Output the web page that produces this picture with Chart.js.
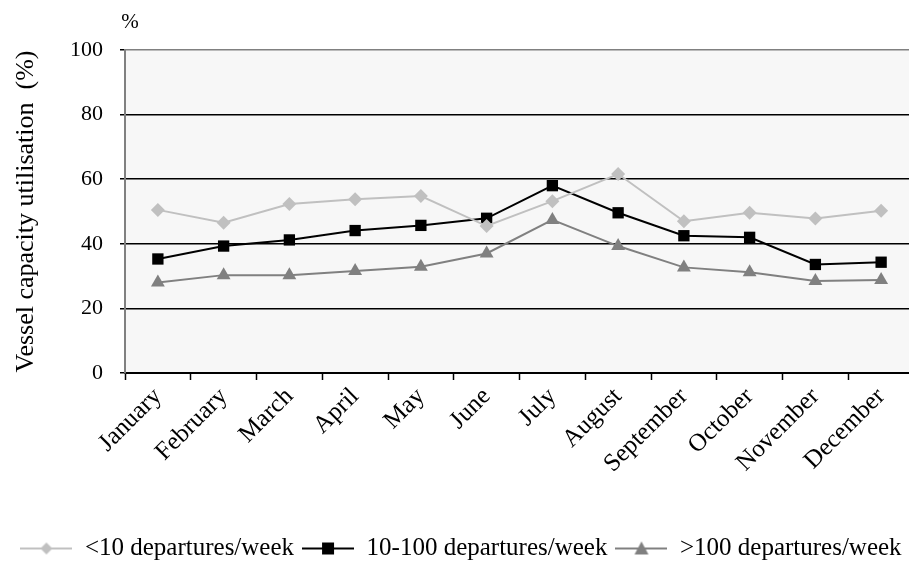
<!DOCTYPE html>
<html lang="en">
<head>
    <meta charset="UTF-8">
    <title>Vessel capacity utilisation</title>
    <script src="https://cdn.jsdelivr.net/npm/chart.js@4.4.1/dist/chart.umd.min.js"></script>
    <style>
        html, body { margin: 0; padding: 0; background: #fff; overflow: hidden; }
        /* plot area runs a little past the right edge, as in the original */
        #clip { width: 909px; height: 565px; overflow: hidden; }
        #wrap { width: 922px; height: 565px; position: relative; }
    </style>
</head>
<body>
    <div id="clip"><div id="wrap"><canvas id="chart"></canvas></div></div>

    <script>
        // months on the x axis
        const months = ['January', 'February', 'March', 'April', 'May', 'June',
                        'July', 'August', 'September', 'October', 'November', 'December'];

        // utilisation (%) by departure frequency
        const lowFreq  = [50.5, 46.5, 52.3, 53.8, 54.8, 45.5, 53.2, 61.6, 47.0, 49.6, 47.8, 50.2];
        const midFreq  = [35.3, 39.3, 41.2, 44.1, 45.7, 47.9, 58.0, 49.6, 42.5, 42.0, 33.6, 34.3];
        const highFreq = [28.0, 30.3, 30.3, 31.6, 32.9, 37.0, 47.4, 39.3, 32.7, 31.2, 28.5, 28.8];

        const seriesNames = ['<10 departures/week', '10-100 departures/week', '>100 departures/week'];
        const yTicks = [0, 20, 40, 60, 80, 100];

        const serif = 'Liberation Serif, Times New Roman, serif';

        // little line+marker picture for the legend
        function legendIcon(color, style) {
            const c = document.createElement('canvas');
            c.width = 52; c.height = 16;
            const g = c.getContext('2d');
            g.strokeStyle = color; g.fillStyle = color; g.lineWidth = 2;
            g.beginPath(); g.moveTo(0, 8); g.lineTo(52, 8); g.stroke();
            g.beginPath();
            if (style === 'rectRot') {
                g.moveTo(26, 2); g.lineTo(32, 8); g.lineTo(26, 14); g.lineTo(20, 8);
            } else if (style === 'rect') {
                g.rect(20, 2, 12, 12);
            } else {
                g.moveTo(26, 1); g.lineTo(33, 14); g.lineTo(19, 14);
            }
            g.closePath(); g.fill();
            return c;
        }

        // light plot background + "%" above the axis
        const plotDecor = {
            id: 'plotDecor',
            beforeDraw(chart) {
                const a = chart.chartArea, ctx = chart.ctx;
                ctx.save();
                ctx.fillStyle = '#f7f7f7';
                ctx.fillRect(a.left, a.top, a.right - a.left, a.bottom - a.top);
                ctx.restore();
            },
            afterDraw(chart) {
                const a = chart.chartArea, ctx = chart.ctx;
                ctx.save();
                ctx.fillStyle = '#000';
                ctx.font = '21px ' + serif;
                ctx.textAlign = 'center';
                ctx.textBaseline = 'middle';
                ctx.fillText('%', a.left + 5, 22);
                ctx.restore();
            }
        };

        const colors = ['#c0c0c0', '#000000', '#808080'];
        const styles = ['rectRot', 'rect', 'triangle'];
        const dataSets = [lowFreq, midFreq, highFreq];

        const ctx = document.getElementById('chart').getContext('2d');
        new Chart(ctx, {
            type: 'line',
            data: {
                labels: months,
                datasets: dataSets.map((d, i) => ({
                    label: seriesNames[i],
                    data: d,
                    borderColor: colors[i],
                    backgroundColor: colors[i],
                    borderWidth: 2,
                    pointStyle: styles[i],
                    pointRadius: i === 0 ? 7 : 8,
                    pointHoverRadius: 8,
                    pointBorderWidth: 0,
                    tension: 0
                }))
            },
            options: {
                responsive: true,
                maintainAspectRatio: false,
                animation: false,
                layout: { padding: { top: 50, right: 0, left: 0, bottom: -6 } },
                scales: {
                    x: {
                        offset: true,
                        grid: {
                            offset: true,
                            drawOnChartArea: false,
                            drawTicks: true,
                            tickLength: 7,
                            tickColor: '#000',
                            tickWidth: 1.5
                        },
                        border: { color: '#000', width: 2 },
                        ticks: {
                            color: '#000',
                            font: { family: serif, size: 25 },
                            maxRotation: 45,
                            minRotation: 45,
                            padding: 2,
                            autoSkip: false
                        },
                        afterFit(scale) { scale.height = 155; }
                    },
                    y: {
                        min: 0,
                        max: 100,
                        afterBuildTicks(scale) { scale.ticks = yTicks.map(v => ({ value: v })); },
                        grid: {
                            color: ctx => ctx.tick.value === 100 ? '#808080' : '#000',
                            lineWidth: 1.5,
                            drawTicks: true,
                            tickLength: 5,
                            tickColor: '#000'
                        },
                        border: { color: '#808080', width: 2 },
                        ticks: {
                            color: '#000',
                            font: { family: serif, size: 22 },
                            padding: 17
                        },
                        title: {
                            display: true,
                            text: 'Vessel capacity utilisation  (%)',
                            color: '#000',
                            font: { family: serif, size: 26 },
                            padding: { top: 11, bottom: 0 }
                        },
                        afterFit(scale) { scale.width = 125; }
                    }
                },
                plugins: {
                    legend: {
                        position: 'bottom',
                        labels: {
                            usePointStyle: true,
                            pointStyleWidth: 52,
                            generateLabels(chart) {
                                return chart.data.datasets.map((ds, i) => ({
                                    text: ds.label,
                                    pointStyle: legendIcon(colors[i], styles[i]),
                                    fillStyle: colors[i],
                                    strokeStyle: colors[i],
                                    lineWidth: 0,
                                    hidden: false,
                                    datasetIndex: i,
                                    fontColor: '#000'
                                }));
                            },
                            color: '#000',
                            font: { family: serif, size: 25 },
                            padding: 8
                        }
                    },
                    tooltip: { enabled: false }
                }
            },
            plugins: [plotDecor]
        });
    </script>
</body>
</html>
